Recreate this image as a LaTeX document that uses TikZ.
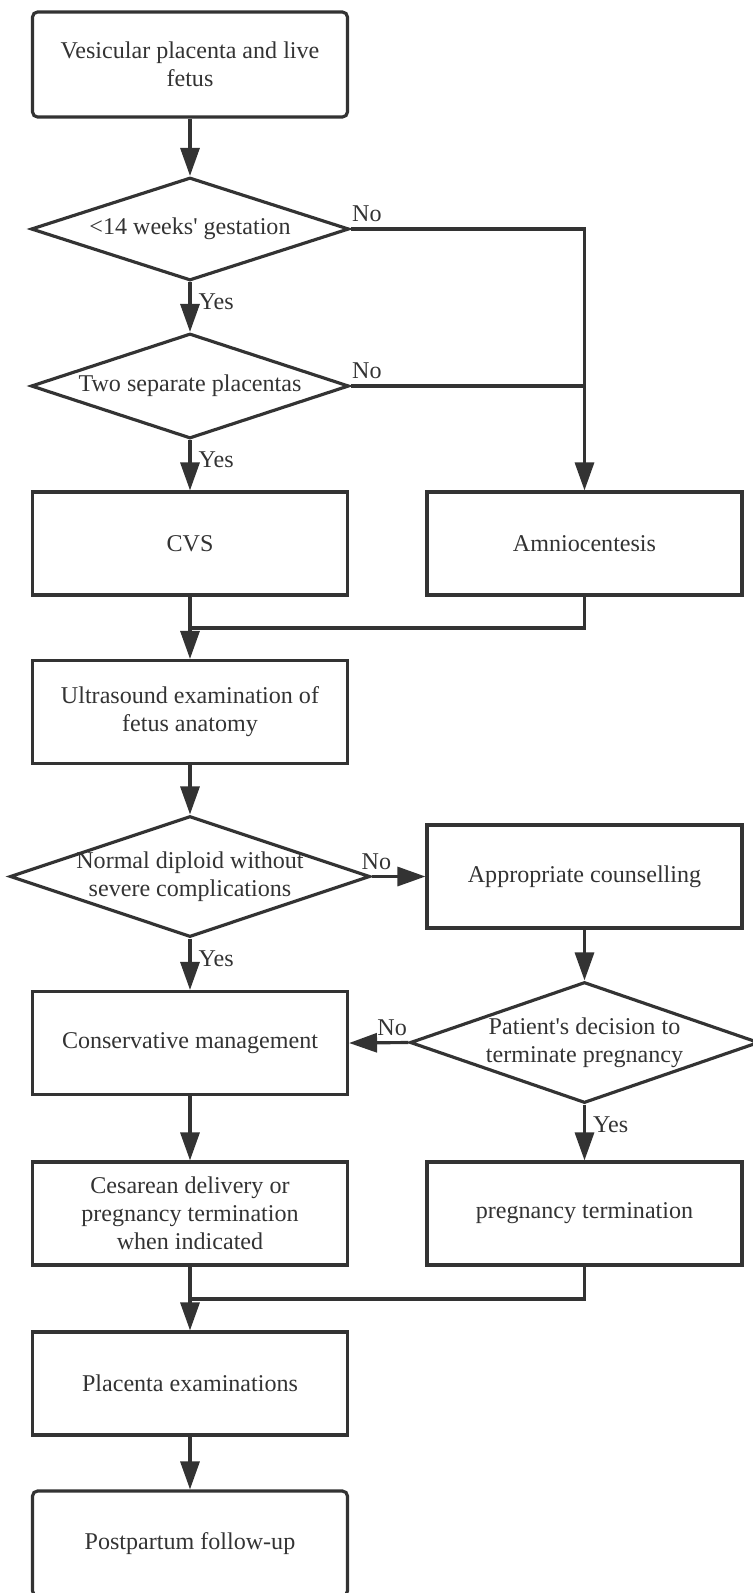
\documentclass[tikz,border=0pt]{standalone}
\usepackage{fontspec}
\setmainfont{Liberation Serif}
\usetikzlibrary{shapes.geometric,arrows.meta}
\definecolor{ink}{HTML}{333333}
\tikzset{
  box/.style={draw=ink, line width=1.8pt, text=ink, align=center,
    minimum width=6.3cm, minimum height=2.06cm, inner sep=2pt},
  endbox/.style={box, rounded corners=0.1cm, minimum height=2.1cm},
  decision/.style={diamond, draw=ink, line width=1.8pt, inner sep=0pt},
  line/.style={draw=ink, line width=1.8pt},
  arr/.style={line, -{Triangle[length=0.56cm,width=0.38cm]}},
  tag/.style={text=ink, inner sep=1pt},
}
\begin{document}
\begin{tikzpicture}[x=0.02cm, y=-0.02cm, font=\fontsize{13.7}{16}\selectfont]
  \useasboundingbox (0,0) rectangle (753,1593);
  % Boxes
  \node[endbox] (start) at (190,64.5) {Vesicular placenta and live\\fetus};
  \node[decision, minimum width=6.36cm, minimum height=2.06cm,
    label={[text=ink]center:{<14 weeks\textquotesingle{} gestation}}] (q1) at (190,229) {};
  \node[decision, minimum width=6.36cm, minimum height=2.1cm,
    label={[text=ink]center:{Two separate placentas}}] (q2) at (190,386) {};
  \node[box] (cvs) at (190,543.5) {CVS};
  \node[box] (amnio) at (584.5,543.5) {Amniocentesis};
  \node[box] (us) at (190,712) {Ultrasound examination of\\fetus anatomy};
  \node[decision, minimum width=7.2cm, minimum height=2.42cm,
    label={[text=ink, align=center]center:{Normal diploid without\\severe complications}}] (q3) at (190,876.5) {};
  \node[box] (couns) at (584.5,876.5) {Appropriate counselling};
  \node[box] (cons) at (190,1043) {Conservative management};
  \node[decision, minimum width=6.98cm, minimum height=2.42cm,
    label={[text=ink, align=center]center:{Patient\textquotesingle s decision to\\terminate pregnancy}}] (q4) at (584.5,1042.5) {};
  \node[box] (ces) at (190,1213.5) {Cesarean delivery or\\pregnancy termination\\when indicated};
  \node[box] (term) at (584.5,1213.5) {pregnancy termination};
  \node[box] (plac) at (190,1383.5) {Placenta examinations};
  \node[endbox] (post) at (190,1543.5) {Postpartum follow-up};
  % Joins
  \coordinate (j1) at (190,628);
  \coordinate (j2) at (190,1299);
  % Connectors
  \draw[arr] (start) -- (q1);
  \draw[arr] (q1.east) -| node[tag, at start, anchor=south west, xshift=-1pt, yshift=2pt] (no1) {No} (amnio.north);
  \draw[arr] (q1.south) -- node[tag, at start, anchor=north west, xshift=3pt, yshift=-5pt] (yes1) {Yes} (q2.north);
  \draw[line] (q2.east) -- node[tag, at start, anchor=south west, xshift=-1pt, yshift=2pt] (no2) {No} (q2.east -| amnio.north);
  \draw[arr] (q2.south) -- node[tag, at start, anchor=north west, xshift=3pt, yshift=-5pt] (yes2) {Yes} (cvs.north);
  \draw[line] (amnio.south) |- (j1);
  \draw[arr] (cvs.south) -- (us.north);
  \draw[arr] (us) -- (q3);
  \draw[arr] (q3.east) -- node[tag, at start, anchor=south west, xshift=-7.5pt, yshift=2pt] (no3) {No} (couns.west);
  \draw[arr] (q3.south) -- node[tag, at start, anchor=north west, xshift=3pt, yshift=-5pt] (yes3) {Yes} (cons.north);
  \draw[arr] (couns) -- (q4);
  \draw[arr] (q4.west) -- node[tag, at start, anchor=south east, xshift=1pt, yshift=2pt] (no4) {No} (cons.east);
  \draw[arr] (q4.south) -- node[tag, at start, anchor=north west, xshift=3pt, yshift=-5pt] (yes4) {Yes} (term.north);
  \draw[arr] (cons) -- (ces);
  \draw[line] (term.south) |- (j2);
  \draw[arr] (ces.south) -- (plac.north);
  \draw[arr] (plac) -- (post);
\end{tikzpicture}
\end{document}
